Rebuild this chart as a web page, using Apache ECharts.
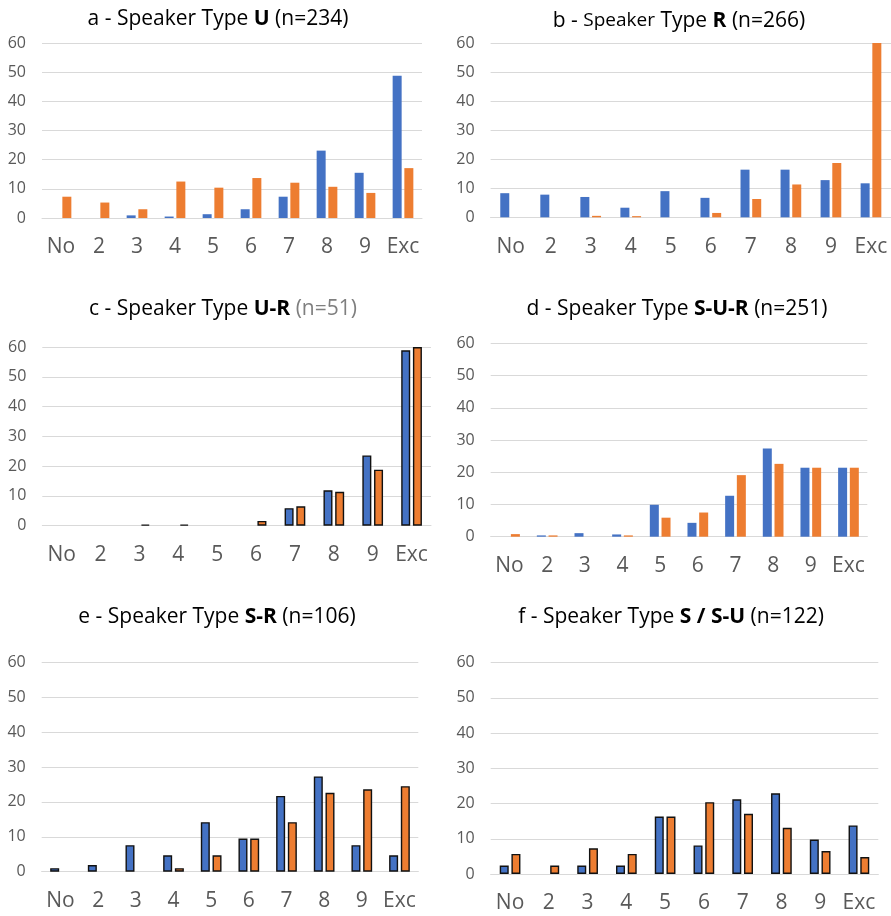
<!DOCTYPE html>
<html>
<head>
<meta charset="utf-8">
<script src="https://cdn.jsdelivr.net/npm/echarts@6/dist/echarts.min.js"></script>
<style>
  html, body { margin: 0; padding: 0; background: #fff; }
  #chart { width: 891px; height: 916px; }
</style>
</head>
<body>
<div id="chart"></div>
<script>
// ---- Data ----
const categories = ['No', '2', '3', '4', '5', '6', '7', '8', '9', 'Exc'];
const yTicks = [0, 10, 20, 30, 40, 50, 60];

const aBlue   = [0, 0, 0.9, 0.5, 1.3, 3.0, 7.3, 23.1, 15.5, 48.8];
const aOrange = [7.3, 5.3, 3.0, 12.5, 10.4, 13.7, 12.1, 10.7, 8.6, 17.1];
const bBlue   = [8.3, 7.8, 7.0, 3.3, 9.0, 6.7, 16.4, 16.4, 12.8, 11.7];
const bOrange = [0, 0, 0.5, 0.4, 0, 1.5, 6.3, 11.3, 18.7, 60];
const cBlue   = [0, 0, 0, 0, 0, 0, 5.9, 11.9, 23.6, 58.9];
const cOrange = [0, 0, 0.4, 0.4, 0, 1.6, 6.5, 11.4, 18.8, 60];
const dBlue   = [0, 0.4, 1.1, 0.7, 9.9, 4.3, 12.7, 27.4, 21.4, 21.4];
const dOrange = [0.8, 0.4, 0, 0.4, 5.9, 7.5, 19.1, 22.6, 21.4, 21.4];
const eBlue   = [1.0, 1.9, 7.6, 4.7, 14.2, 9.5, 21.7, 27.3, 7.6, 4.7];
const eOrange = [0, 0, 0, 1.0, 4.7, 9.5, 14.2, 22.6, 23.6, 24.5];
const fBlue   = [2.4, 0, 2.4, 2.4, 16.3, 8.1, 21.2, 22.9, 9.8, 13.8];
const fOrange = [5.7, 2.4, 7.3, 5.7, 16.3, 20.4, 17.1, 13.1, 6.5, 4.8];

// ---- Layout / style ----
const FONT = '"Open Sans", "Noto Sans", sans-serif';
const BLUE = '#4472C4';
const ORANGE = '#ED7D31';
const TITLE_SIZE = 21;

const panels = [
  { blue: aBlue, orange: aOrange, border: false,
    grid: { left: 42, top: 43, width: 380, height: 175 },
    title: { x: 218, y: 19, text: 'a - Speaker Type {b|U} (n=234)' } },
  { blue: bBlue, orange: bOrange, border: false,
    grid: { left: 490.6, top: 43, width: 401, height: 174.3 },
    title: { x: 679, y: 21, text: 'b - {s|Speaker} Type {b|R} (n=266)' } },
  { blue: cBlue, orange: cOrange, border: true,
    grid: { left: 42.3, top: 347, width: 388.7, height: 178.7 },
    title: { x: 223, y: 309, text: 'c - Speaker Type {b|U-R} {g|(n=51)}' } },
  { blue: dBlue, orange: dOrange, border: false,
    grid: { left: 490.7, top: 343.3, width: 376.6, height: 193.4 },
    title: { x: 677, y: 309, text: 'd - Speaker Type {b|S-U-R} (n=251)' } },
  { blue: eBlue, orange: eOrange, border: true,
    grid: { left: 41.7, top: 662.3, width: 376.6, height: 209.4 },
    title: { x: 217, y: 617, text: 'e - Speaker Type {b|S-R} (n=106)' } },
  { blue: fBlue, orange: fOrange, border: true,
    grid: { left: 490.7, top: 662.7, width: 387.6, height: 211.3 },
    title: { x: 671, y: 617, text: 'f - Speaker Type {b|S / S-U} (n=122)' } }
];

const grids = [], xAxes = [], yAxes = [], series = [], graphics = [];
const toData = arr => arr.map(v => (v === 0 ? '-' : v));

panels.forEach((p, i) => {
  grids.push(Object.assign({ containLabel: false }, p.grid));
  xAxes.push({
    type: 'category', gridIndex: i, data: categories,
    axisLine: { show: true, lineStyle: { color: '#D9D9D9', width: 1 } },
    axisTick: { show: false },
    axisLabel: { color: '#595959', fontSize: 21, fontFamily: FONT, margin: 19, interval: 0 }
  });
  yAxes.push({
    type: 'value', gridIndex: i, min: yTicks[0], max: yTicks[yTicks.length - 1],
    interval: yTicks[1] - yTicks[0],
    axisLine: { show: false }, axisTick: { show: false },
    splitLine: { lineStyle: { color: '#D9D9D9', width: 1 } },
    axisLabel: { color: '#595959', fontSize: 16, fontFamily: FONT, margin: 16 }
  });
  const border = p.border ? { borderColor: '#111', borderWidth: 1.4 } : {};
  series.push({
    type: 'bar', xAxisIndex: i, yAxisIndex: i, data: toData(p.blue),
    barWidth: 9, barGap: '30%',
    itemStyle: Object.assign({ color: BLUE }, border)
  });
  series.push({
    type: 'bar', xAxisIndex: i, yAxisIndex: i, data: toData(p.orange),
    barWidth: 9, barGap: '30%',
    itemStyle: Object.assign({ color: ORANGE }, border)
  });
  graphics.push({
    type: 'text', x: p.title.x, y: p.title.y,
    style: {
      text: p.title.text,
      fontFamily: FONT, fontSize: TITLE_SIZE, fill: '#000',
      align: 'center', verticalAlign: 'middle',
      rich: {
        b: { fontFamily: FONT, fontSize: TITLE_SIZE, fontWeight: 'bold', fill: '#000' },
        s: { fontFamily: FONT, fontSize: TITLE_SIZE - 2, fill: '#000' },
        g: { fontFamily: FONT, fontSize: TITLE_SIZE, fill: '#7F7F7F' }
      }
    }
  });
});

const chart = echarts.init(document.getElementById('chart'), null, { renderer: 'canvas' });
chart.setOption({
  animation: false,
  backgroundColor: '#fff',
  grid: grids,
  xAxis: xAxes,
  yAxis: yAxes,
  series: series,
  graphic: graphics
});
</script>
</body>
</html>
